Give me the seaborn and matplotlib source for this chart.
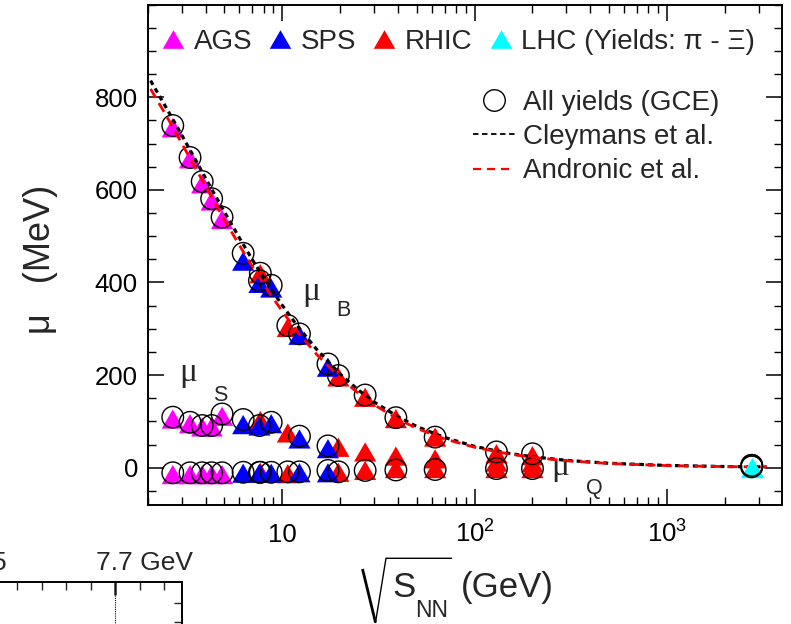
import numpy as np
import pandas as pd
import matplotlib
matplotlib.use("Agg")
import matplotlib.pyplot as plt
import seaborn as sns
from matplotlib.lines import Line2D
from matplotlib.ticker import FixedLocator, FixedFormatter, LogLocator, MultipleLocator, NullFormatter

sns.set_theme(style="ticks")
plt.rcParams["font.family"] = ["Liberation Sans", "DejaVu Sans"]
plt.rcParams["mathtext.fontset"] = "custom"
plt.rcParams["mathtext.rm"] = "Liberation Sans"
plt.rcParams["mathtext.it"] = "Liberation Sans"
plt.rcParams["mathtext.bf"] = "Liberation Sans:bold"

# ---------------- data ----------------
ags_energy = [2.7, 3.32, 3.84, 4.3, 4.87]
ags_mu_b = [734, 667, 613, 576, 536]
ags_mu_s = [105, 95, 88, 88, 111]
ags_mu_q = [-15, -15, -15, -15, -15]

sps_energy = [6.27, 7.62, 8.77, 12.3, 17.3]
sps_mu_b = [446, 398, 388, 286, 217]
sps_mu_s = [93, 90, 95, 62, 41]
sps_mu_q = [-12, -12, -12, -11, -11]

rhic_energy = [7.7, 10.7, 19.6, 27, 39, 62.4, 130, 200]
rhic_mu_b = [419, 303, 196, 152, 106, 66, 30, 26]
rhic_mu_s = [102, 75, 44, 34, 25, 19, 12, 10]
rhic_mu_q = [-10, -13, -10, -6, -2, -2, -2, -2]

lhc_energy = [2760]
lhc_mu_b = [2]
lhc_mu_s = [0]
lhc_mu_q = [0]

gce_energy = [2.7, 3.32, 3.84, 4.3, 4.87, 6.27, 7.62, 7.7, 8.77, 10.7, 12.3, 17.3,
              19.6, 27, 39, 62.4, 130, 200, 2760]
gce_mu_b = [739, 670, 618, 581, 541, 463, 404, 420, 394, 307, 289, 224,
            199, 157, 108, 66, 34, 30, 5]
gce_mu_s = [109, 98, 91, 91, 116, 104, 91, np.nan, 98, np.nan, 68, 47,
            np.nan, np.nan, np.nan, np.nan, np.nan, np.nan, np.nan]
gce_mu_q = [-11, -11, -11, -11, -11, -10, -10, -10, -10, -9, -9, -6,
            -9, -6, -5, -4, -2, -2, 2]

curve_energy = [2.07, 2.5, 3, 3.5, 4, 5, 6, 7, 8.5, 10, 12, 15, 20, 25, 30, 40, 50,
                70, 100, 150, 200, 300, 500, 1000, 2000, 3300]
cleymans_mu_b = [836, 777, 719, 669, 625, 553, 496, 449, 394, 351, 306, 257, 202, 167,
                 142, 110, 89, 65, 46, 31, 23.5, 15.8, 9.5, 4.8, 2.4, 1.5]
andronic_mu_b = [818, 760, 701, 651, 608, 536, 480, 434, 380, 338, 294, 246, 194, 160,
                 136, 105, 85, 62, 44, 29.7, 22.4, 15.0, 9.0, 4.5, 2.3, 1.4]

facilities = ["AGS", "SPS", "RHIC", "LHC"]
facility_colors = {"AGS": "#ff00ff", "SPS": "#0000ff", "RHIC": "#ff0000", "LHC": "#00ffff"}
legend_labels = ["AGS", "SPS", "RHIC", "LHC (Yields: π - Ξ)"]
model_labels = ["All yields (GCE)", "Cleymans et al.", "Andronic et al."]

x_tick_values = [10, 100, 1000]
x_tick_labels = ["10", r"$10^{2}$", r"$10^{3}$"]
y_tick_values = [0, 200, 400, 600, 800]
y_tick_labels = ["0", "200", "400", "600", "800"]


def long_frame(name, energy, mb, ms, mq):
    rows = []
    for e, a, b, c in zip(energy, mb, ms, mq):
        rows += [(name, e, a), (name, e, b), (name, e, c)]
    return pd.DataFrame(rows, columns=["facility", "energy", "mu"])


tri_df = pd.concat([
    long_frame("AGS", ags_energy, ags_mu_b, ags_mu_s, ags_mu_q),
    long_frame("RHIC", rhic_energy, rhic_mu_b, rhic_mu_s, rhic_mu_q),
    long_frame("SPS", sps_energy, sps_mu_b, sps_mu_s, sps_mu_q),
], ignore_index=True)
lhc_df = long_frame("LHC", lhc_energy, lhc_mu_q, lhc_mu_s, lhc_mu_b)
gce_df = pd.DataFrame({
    "energy": gce_energy * 3,
    "mu": gce_mu_b + gce_mu_s + gce_mu_q,
}).dropna()
curve_df = pd.DataFrame({"energy": curve_energy, "cley": cleymans_mu_b, "andr": andronic_mu_b})

# equilateral triangle marker
tri_marker = [(-1.0, -0.866), (1.0, -0.866), (0.0, 0.866), (-1.0, -0.866)]
TRI_S = 255
CIRC_S = 240
CLEY_STYLE = (0, (1.5, 1.3))
ANDR_STYLE = (0, (3.6, 2.3))

# ---------------- figure ----------------
W, H = 791, 624
fig = plt.figure(figsize=(W / 100, H / 100), dpi=100)
ax = fig.add_axes([147.7 / W, 119.3 / H, 634 / W, 500 / H])

sns.scatterplot(data=tri_df, x="energy", y="mu", hue="facility", palette=facility_colors,
                marker=tri_marker, s=TRI_S, linewidth=0, legend=False, ax=ax, zorder=2)
sns.scatterplot(data=gce_df, x="energy", y="mu", marker="o", s=CIRC_S, facecolor="none",
                edgecolor="black", linewidth=1.0, legend=False, ax=ax, zorder=3)
sns.lineplot(data=curve_df, x="energy", y="cley", color="black", linestyle=CLEY_STYLE,
             linewidth=2.3, sort=False, estimator=None, ax=ax, zorder=4)
sns.lineplot(data=curve_df, x="energy", y="andr", color="#ff0000", linestyle=ANDR_STYLE,
             linewidth=2.0, sort=False, estimator=None, ax=ax, zorder=4)
sns.scatterplot(data=lhc_df, x="energy", y="mu", color=facility_colors["LHC"],
                marker=tri_marker, s=TRI_S, linewidth=0, legend=False, ax=ax, zorder=5)
sns.scatterplot(data=gce_df[gce_df["energy"] > 1000], x="energy", y="mu", marker="o", s=CIRC_S,
                facecolor="none", edgecolor="black", linewidth=1.0, legend=False, ax=ax, zorder=6)

ax.set_xscale("log")
ax.set_xlim(2.0, 3950)
ax.set_ylim(-80, 1000)

ax.xaxis.set_major_locator(FixedLocator(x_tick_values))
ax.xaxis.set_major_formatter(FixedFormatter(x_tick_labels))
ax.xaxis.set_minor_locator(LogLocator(base=10, subs=np.arange(2, 10), numticks=30))
ax.xaxis.set_minor_formatter(NullFormatter())
ax.yaxis.set_major_locator(FixedLocator(y_tick_values))
ax.yaxis.set_major_formatter(FixedFormatter(y_tick_labels))
ax.yaxis.set_minor_locator(MultipleLocator(50))

ax.tick_params(which="both", direction="in", top=True, right=True, colors="black")
ax.tick_params(which="major", length=11.5, width=1.1)
ax.tick_params(which="minor", length=5.8, width=1.0)
ax.tick_params(axis="y", which="major", labelsize=18.5, pad=7)
ax.tick_params(axis="x", which="major", labelsize=18.5, pad=27)
for lab in ax.get_xticklabels():
    lab.set_verticalalignment("baseline")
for sp in ax.spines.values():
    sp.set_linewidth(1.4)
    sp.set_color("black")
ax.grid(False)

# x title: sqrt(S_NN) (GeV), radical drawn as a figure line
ax.set_xlabel("")
fig.text(392 / W, (H - 597) / H, "S", fontsize=25, ha="left", va="baseline")
fig.text(415 / W, (H - 617) / H, "NN", fontsize=16.5, ha="left", va="baseline")
fig.text(461 / W, (H - 597) / H, "(GeV)", fontsize=25, ha="left", va="baseline")
rad_x = [362.5 / W, 375.5 / W, 386 / W, 451.5 / W]
rad_y = [(H - 569) / H, (H - 622.5) / H, (H - 558.3) / H, (H - 558.3) / H]
fig.add_artist(Line2D(rad_x[:2], rad_y[:2], transform=fig.transFigure, color="black",
                      linewidth=2.0, solid_capstyle="butt"))
fig.add_artist(Line2D(rad_x[1:], rad_y[1:], transform=fig.transFigure, color="black",
                      linewidth=1.0, solid_joinstyle="miter"))

ax.set_ylabel("μ   (MeV)", fontsize=26)
ax.yaxis.set_label_coords(-0.142, 0.49)

# annotations
ax.text(14.2, 380, "μ", fontsize=24, family="Liberation Serif", ha="center", va="center")
ax.text(20.8, 340, "B", fontsize=15.5, ha="center", va="center")
ax.text(3.23, 206, "μ", fontsize=24, family="Liberation Serif", ha="center", va="center")
ax.text(4.78, 156, "S", fontsize=15.5, ha="center", va="center")
ax.text(279, 1, "μ", fontsize=24, family="Liberation Serif", ha="center", va="center")
ax.text(420, -45, "Q", fontsize=15.5, ha="center", va="center")

# legends
tri_handles = [Line2D([], [], linestyle="none", marker=tri_marker, markersize=15.5,
                      markerfacecolor=facility_colors[f], markeredgewidth=0) for f in facilities]
leg1 = ax.legend(tri_handles, legend_labels, ncol=4, loc="center left",
                 bbox_to_anchor=(0.018, 0.925), frameon=False, fontsize=20,
                 handlelength=1.0, handletextpad=0.25, columnspacing=0.5,
                 borderpad=0, borderaxespad=0)
ax.add_artist(leg1)
model_handles = [
    Line2D([], [], linestyle="none", marker="o", markersize=15.5, markerfacecolor="none",
           markeredgecolor="black", markeredgewidth=1.0),
    Line2D([], [], color="black", linestyle=(0, (3.0, 2.0)), linewidth=1.3),
    Line2D([], [], color="#ff0000", linestyle=(0, (3.6, 2.7)), linewidth=1.6),
]
ax.legend(model_handles, model_labels, loc="center left", bbox_to_anchor=(0.513, 0.735),
          frameon=False, fontsize=20, handlelength=1.5, handletextpad=0.29,
          labelspacing=0.29, borderpad=0, borderaxespad=0)

# fragment of a neighbouring panel (bottom-left corner)
frag = fig.add_axes([-100 / W, -100 / H, 281.7 / W, 142.3 / H])
frag.set_xlim(-8.776, 2.722)
frag.set_ylim(-3.56, 4.174)
for side in ["left", "bottom"]:
    frag.spines[side].set_visible(False)
for side in ["top", "right"]:
    frag.spines[side].set_linewidth(1.4)
    frag.spines[side].set_color("black")
frag.set_facecolor("none")
frag.xaxis.set_major_locator(FixedLocator([0]))
frag.xaxis.set_minor_locator(MultipleLocator(1))
frag.yaxis.set_major_locator(FixedLocator([]))
frag.yaxis.set_minor_locator(FixedLocator([2, 3]))
frag.tick_params(which="both", direction="in", top=True, bottom=False, left=False, right=True,
                 labeltop=False, labelbottom=False, labelleft=False, labelright=False)
frag.tick_params(which="major", length=9.5, width=1.8)
frag.tick_params(which="minor", length=5.8, width=1.0)
frag.axvline(0, color="black", linestyle=(0, (1, 1)), linewidth=0.8)
frag.grid(False)
fig.text(192.7 / W, (H - 563) / H, "7.7 GeV", fontsize=19, ha="right", va="center")
fig.text(7 / W, (H - 563) / H, "5", fontsize=19, ha="right", va="center")

fig.savefig("out.png", dpi=100)
